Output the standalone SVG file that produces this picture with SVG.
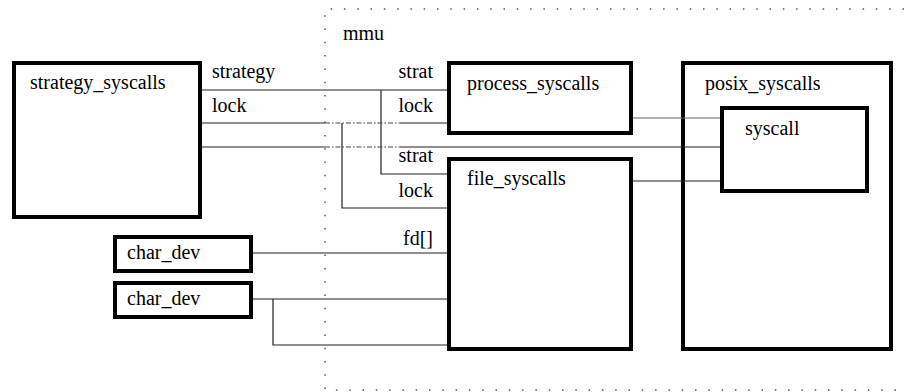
<svg xmlns="http://www.w3.org/2000/svg" width="904" height="392" viewBox="0 0 904 392">
  <style>
    .box { fill: #fff; stroke: #000; stroke-width: 4; }
    .lbl { font-family: "Liberation Serif", serif; font-size: 20px; }
    .end { text-anchor: end; }
    .wire { fill: none; stroke: #222; stroke-width: 1.2; }
    .soft { fill: none; stroke: #666; stroke-width: 1.2; }
    .broken { fill: none; stroke: #444; stroke-width: 1.2; stroke-dasharray: 5 2 1.5 2; }
    .mmu { fill: none; stroke: #555; stroke-width: 1.5; stroke-dasharray: 1.5 11.8; }
  </style>

  <!-- mmu region (dotted, open to the right) -->
  <g id="mmu">
    <path class="mmu" d="M904,9 H325 V390 H904"/>
    <text class="lbl" x="343" y="40">mmu</text>
  </g>

  <g id="strategy_syscalls">
    <rect class="box" x="14" y="63" width="186" height="154"/>
    <text class="lbl" x="30" y="89">strategy_syscalls</text>
    <text class="lbl" x="212" y="78">strategy</text>
    <text class="lbl" x="212" y="112">lock</text>
  </g>

  <g id="process_syscalls">
    <rect class="box" x="449" y="63" width="182" height="70"/>
    <text class="lbl" x="467" y="90">process_syscalls</text>
    <text class="lbl end" x="433" y="78">strat</text>
    <text class="lbl end" x="433" y="112">lock</text>
  </g>

  <g id="file_syscalls">
    <rect class="box" x="449" y="159" width="182" height="190"/>
    <text class="lbl" x="467" y="185">file_syscalls</text>
    <text class="lbl end" x="433" y="162">strat</text>
    <text class="lbl end" x="433" y="197">lock</text>
    <text class="lbl end" x="433" y="245">fd[]</text>
  </g>

  <g id="posix_syscalls">
    <rect class="box" x="683" y="63" width="208" height="286"/>
    <text class="lbl" x="705" y="90">posix_syscalls</text>
  </g>

  <g id="syscall">
    <rect class="box" x="722" y="108" width="145" height="83"/>
    <text class="lbl" x="745" y="135">syscall</text>
  </g>

  <g id="char_dev_1">
    <rect class="box" x="115" y="237" width="136" height="34"/>
    <text class="lbl" x="127" y="259">char_dev</text>
  </g>

  <g id="char_dev_2">
    <rect class="box" x="115" y="283" width="136" height="34"/>
    <text class="lbl" x="127" y="305">char_dev</text>
  </g>

  <!-- connectors, drawn over the boxes so they run into posix_syscalls -->
  <g id="connectors">
    <!-- strategy -->
    <path class="wire" d="M202,90 H447"/>
    <path class="wire" d="M381,90 V174 H447"/>
    <!-- lock -->
    <path class="wire" d="M202,123 H325"/>
    <path class="broken" d="M325,123 H400"/>
    <path class="wire" d="M400,123 H447"/>
    <path class="wire" d="M342,123 V208 H447"/>
    <!-- syscall line from strategy_syscalls -->
    <path class="wire" d="M202,147 H325"/>
    <path class="broken" d="M325,147 H400"/>
    <path class="wire" d="M400,147 H720"/>
    <!-- process / file to syscall -->
    <path class="soft" d="M633,118 H720"/>
    <path class="wire" d="M633,181 H720"/>
    <!-- char devices -->
    <path class="wire" d="M253,253 H447"/>
    <path class="wire" d="M253,299 H447"/>
    <path class="wire" d="M273,299 V345 H447"/>
  </g>
</svg>
